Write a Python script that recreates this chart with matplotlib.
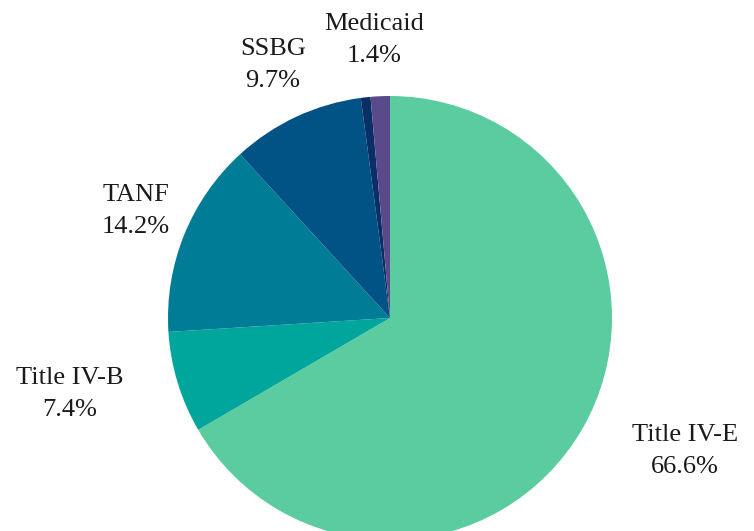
import matplotlib
matplotlib.use("Agg")
import matplotlib.pyplot as plt

# funding sources, clockwise from 12 o'clock
labels = ["Title IV-E", "Title IV-B", "TANF", "SSBG", "", "Medicaid"]
shares = [66.6, 7.4, 14.2, 9.7, 0.7, 1.4]
colors = ["#5BCC9F", "#00A59C", "#007C96", "#005384", "#0A2F66", "#5B4A8B"]

# label centres in pixel coords (y from top)
label_pos = {
    "Title IV-E": (685, 451),
    "Title IV-B": (70, 394),
    "TANF": (136, 211),
    "SSBG": (273, 65),
    "Medicaid": (374, 40),
}

W, H = 754, 531
fig = plt.figure(figsize=(W / 100, H / 100), dpi=100)
ax = fig.add_axes([0, 0, 1, 1])

cx, cy, r = 390, H - 318, 222
ax.pie(shares, colors=colors, startangle=90, counterclock=False,
       center=(cx, cy), radius=r, frame=True,
       wedgeprops=dict(linewidth=0))
ax.set_xlim(0, W)
ax.set_ylim(0, H)
ax.set_aspect("equal")
ax.axis("off")

for name, val in zip(labels, shares):
    if not name:
        continue
    x, y = label_pos[name]
    ax.text(x, H - y, f"{name}\n{val:.1f}%", ha="center", va="center",
            fontsize=19, family="Liberation Serif", color="#1a1a1a",
            linespacing=1.55)

fig.savefig("out.png", dpi=100)
